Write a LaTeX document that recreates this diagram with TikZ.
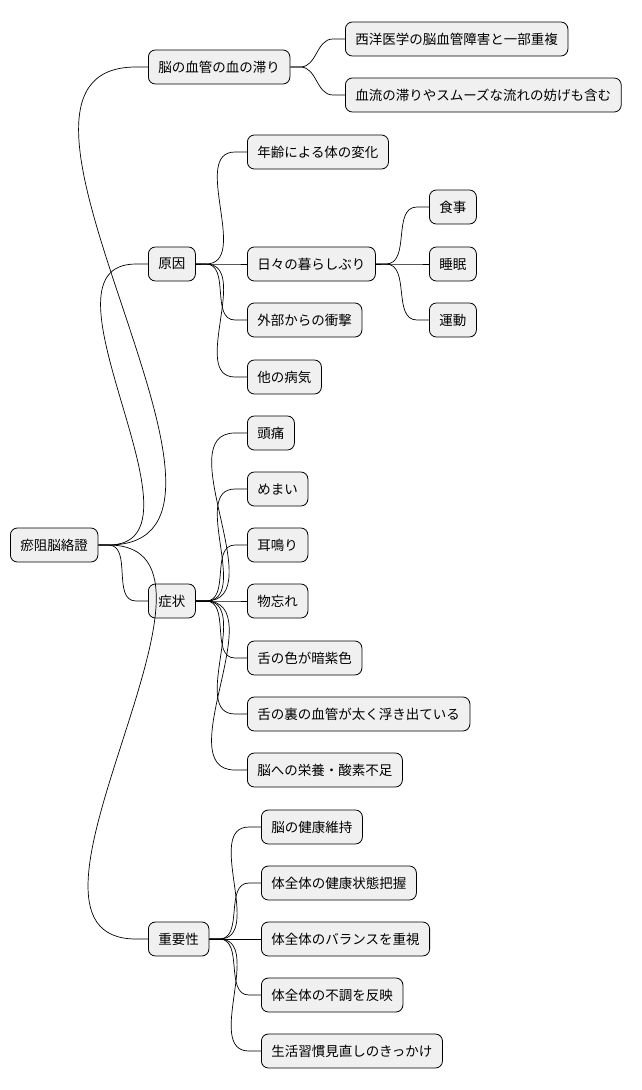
\documentclass[tikz,border=0pt]{standalone}
\usepackage{fontspec}
\setmainfont{Noto Sans CJK JP}
\begin{document}
\begin{tikzpicture}[x=1pt,y=-1pt,
  box/.style={draw=black,line width=0.8pt,fill=black!6,rounded corners=7pt,anchor=west,
    minimum height=34pt,inner xsep=10pt,font=\fontsize{13.5pt}{16pt}\selectfont},
  con/.style={line width=0.7pt}]
\useasboundingbox (0,0) rectangle (642,1090);
\node[box] (r) at (10,545) {瘀阻脳絡證};
\node[box] (a) at (148,67) {脳の血管の血の滞り};
\node[box] (b) at (148,264) {原因};
\node[box] (c) at (148,601) {症状};
\node[box] (d) at (148,939) {重要性};
\node[box] (a1) at (345,39) {西洋医学の脳血管障害と一部重複};
\node[box] (a2) at (345,95) {血流の滞りやスムーズな流れの妨げも含む};
\node[box] (b1) at (247,152) {年齢による体の変化};
\node[box] (b2) at (247,264) {日々の暮らしぶり};
\node[box] (b3) at (247,320) {外部からの衝撃};
\node[box] (b4) at (247,377) {他の病気};
\node[box] (e1) at (429,207) {食事};
\node[box] (e2) at (429,264) {睡眠};
\node[box] (e3) at (429,320) {運動};
\node[box] (c1) at (247,433) {頭痛};
\node[box] (c2) at (247,489) {めまい};
\node[box] (c3) at (247,545) {耳鳴り};
\node[box] (c4) at (247,601) {物忘れ};
\node[box] (c5) at (247,658) {舌の色が暗紫色};
\node[box] (c6) at (247,714) {舌の裏の血管が太く浮き出ている};
\node[box] (c7) at (247,770) {脳への栄養・酸素不足};
\node[box] (d1) at (261,827) {脳の健康維持};
\node[box] (d2) at (261,883) {体全体の健康状態把握};
\node[box] (d3) at (261,939) {体全体のバランスを重視};
\node[box] (d4) at (261,995) {体全体の不調を反映};
\node[box] (d5) at (261,1051) {生活習慣見直しのきっかけ};
\foreach \p/\cs in {r/{a,b,c,d},a/{a1,a2},b/{b1,b2,b3,b4},b2/{e1,e2,e3},c/{c1,c2,c3,c4,c5,c6,c7},d/{d1,d2,d3,d4,d5}}{
  \foreach \ch in \cs {
    \draw[con] (\p.east) -- ++(10,0) to[out=0,in=180] ([xshift=-12pt]\ch.west) -- (\ch.west);
  }
}
\end{tikzpicture}
\end{document}
